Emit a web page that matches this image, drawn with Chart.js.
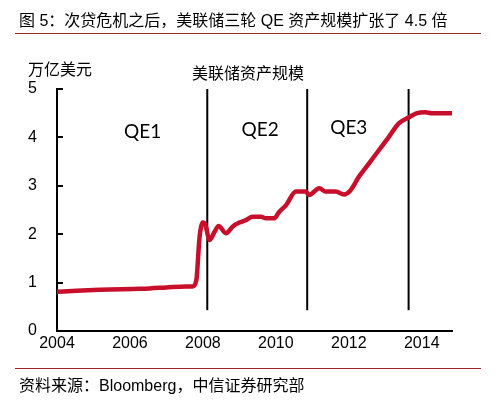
<!DOCTYPE html>
<html lang="zh">
<head>
    <meta charset="UTF-8">
    <title>美联储资产规模</title>
    <script src="https://cdn.jsdelivr.net/npm/chart.js"></script>
    <style>
        body {
            margin: 0;
            padding: 0;
            background: #fff;
            font-family: 'Liberation Sans', 'Noto Sans CJK SC', sans-serif;
            color: #000;
        }
        #wrap {
            position: relative;
            width: 502px;
            height: 412px;
            overflow: hidden;
        }
        #chart {
            position: absolute;
            left: 0;
            top: 0;
        }
        .txt {
            position: absolute;
            white-space: nowrap;
            line-height: 1;
        }
        .rule {
            position: absolute;
            left: 15px;
            width: 466px;
            height: 1px;
            background: #9b2226;
        }
    </style>
</head>
<body>
<div id="wrap">
    <canvas id="chart" width="502" height="412"></canvas>
    <div class="txt" style="left:19px; top:13px; font-size:16px;">图 5：次贷危机之后，美联储三轮 QE 资产规模扩张了 4.5 倍</div>
    <div class="rule" style="top:33px;"></div>
    <div class="txt" style="left:28px; top:62px; font-size:16px;">万亿美元</div>
    <div class="txt" style="left:192px; top:66px; font-size:16px;">美联储资产规模</div>
    <div class="rule" style="top:368px;"></div>
    <div class="txt" style="left:19px; top:378px; font-size:16px;">资料来源：Bloomberg，中信证券研究部</div>
</div>

<script>
    // Fed balance sheet (trillion USD)
    const years = [2004.0, 2004.54, 2005.17, 2006.09, 2006.54, 2007.0, 2007.54, 2007.72, 2007.82, 2007.91,
        2008.0, 2008.07, 2008.18, 2008.32, 2008.43, 2008.63, 2008.82, 2009.0, 2009.18, 2009.36,
        2009.59, 2009.73, 2009.96, 2010.09, 2010.28, 2010.55, 2010.82, 2010.91, 2011.19, 2011.37,
        2011.64, 2011.87, 2012.05, 2012.28, 2012.55, 2012.83, 2013.1, 2013.37, 2013.64, 2013.87,
        2014.1, 2014.28, 2014.83];
    const assets = [0.81, 0.83, 0.85, 0.87, 0.88, 0.90, 0.92, 0.92, 1.05, 1.95,
        2.24, 2.19, 1.88, 2.05, 2.17, 2.02, 2.16, 2.24, 2.29, 2.36,
        2.36, 2.33, 2.33, 2.46, 2.60, 2.88, 2.88, 2.81, 2.95, 2.88,
        2.88, 2.82, 2.91, 3.19, 3.46, 3.74, 4.01, 4.29, 4.41, 4.50,
        4.52, 4.50, 4.50];

    // QE boundaries and labels
    const qeLineYears = [2008.12, 2010.86, 2013.64];
    const qeLineBottom = 0.43;
    const qeLineTop = 5;
    const qeNames = ['QE1', 'QE2', 'QE3'];
    const qeNameX = [2006.35, 2009.57, 2012.0];
    const qeNameY = [4.11, 4.15, 4.19];

    const xTicks = [2004, 2006, 2008, 2010, 2012, 2014];
    const yTicks = [0, 1, 2, 3, 4, 5];

    const datasets = [{
        data: years.map((y, i) => ({ x: y, y: assets[i] })),
        borderColor: '#c70f2b',
        borderWidth: 4.5,
        pointRadius: 0,
        cubicInterpolationMode: 'monotone',
        fill: false
    }];
    qeLineYears.forEach(yr => {
        datasets.push({
            data: [{ x: yr, y: qeLineBottom }, { x: yr, y: qeLineTop }],
            borderColor: '#000',
            borderWidth: 2,
            pointRadius: 0,
            fill: false
        });
    });

    // QE1/QE2/QE3 text at data positions, plus the short inward y ticks
    const qeLabelPlugin = {
        id: 'qeLabels',
        afterDatasetsDraw(chart) {
            const { ctx, scales, chartArea } = chart;
            ctx.save();
            ctx.strokeStyle = '#000';
            ctx.lineWidth = 2;
            yTicks.forEach(v => {
                const py = Math.round(scales.y.getPixelForValue(v));
                ctx.beginPath();
                ctx.moveTo(chartArea.left, py);
                ctx.lineTo(chartArea.left + 6, py);
                ctx.stroke();
            });
            ctx.font = '19px Lato, "Noto Sans", sans-serif';
            ctx.fillStyle = '#000';
            ctx.textAlign = 'center';
            ctx.textBaseline = 'middle';
            qeNames.forEach((name, i) => {
                ctx.fillText(name, scales.x.getPixelForValue(qeNameX[i]), scales.y.getPixelForValue(qeNameY[i]));
            });
            ctx.restore();
        }
    };

    new Chart(document.getElementById('chart'), {
        type: 'line',
        data: { datasets: datasets },
        plugins: [qeLabelPlugin],
        options: {
            responsive: false,
            animation: false,
            layout: { padding: { left: 0, right: 50, top: 89, bottom: 51 } },
            plugins: {
                legend: { display: false },
                tooltip: { enabled: false }
            },
            scales: {
                x: {
                    type: 'linear',
                    min: 2004,
                    max: 2014.83,
                    afterFit: s => { s.height = 30; },
                    afterBuildTicks: s => { s.ticks = xTicks.map(v => ({ value: v })); },
                    grid: { display: false, drawTicks: false },
                    border: { display: true, color: '#000', width: 2 },
                    ticks: {
                        color: '#000',
                        padding: 3,
                        maxRotation: 0,
                        font: { family: '"Liberation Sans", Arial, sans-serif', size: 16 },
                        callback: v => String(v)
                    }
                },
                y: {
                    min: 0,
                    max: 5,
                    afterFit: s => { s.width = 57; },
                    afterBuildTicks: s => { s.ticks = yTicks.map(v => ({ value: v })); },
                    grid: { display: false, drawTicks: false },
                    border: { display: true, color: '#000', width: 2 },
                    ticks: {
                        color: '#000',
                        padding: 20,
                        font: { family: '"Liberation Sans", Arial, sans-serif', size: 16 }
                    }
                }
            }
        }
    });
</script>
</body>
</html>
